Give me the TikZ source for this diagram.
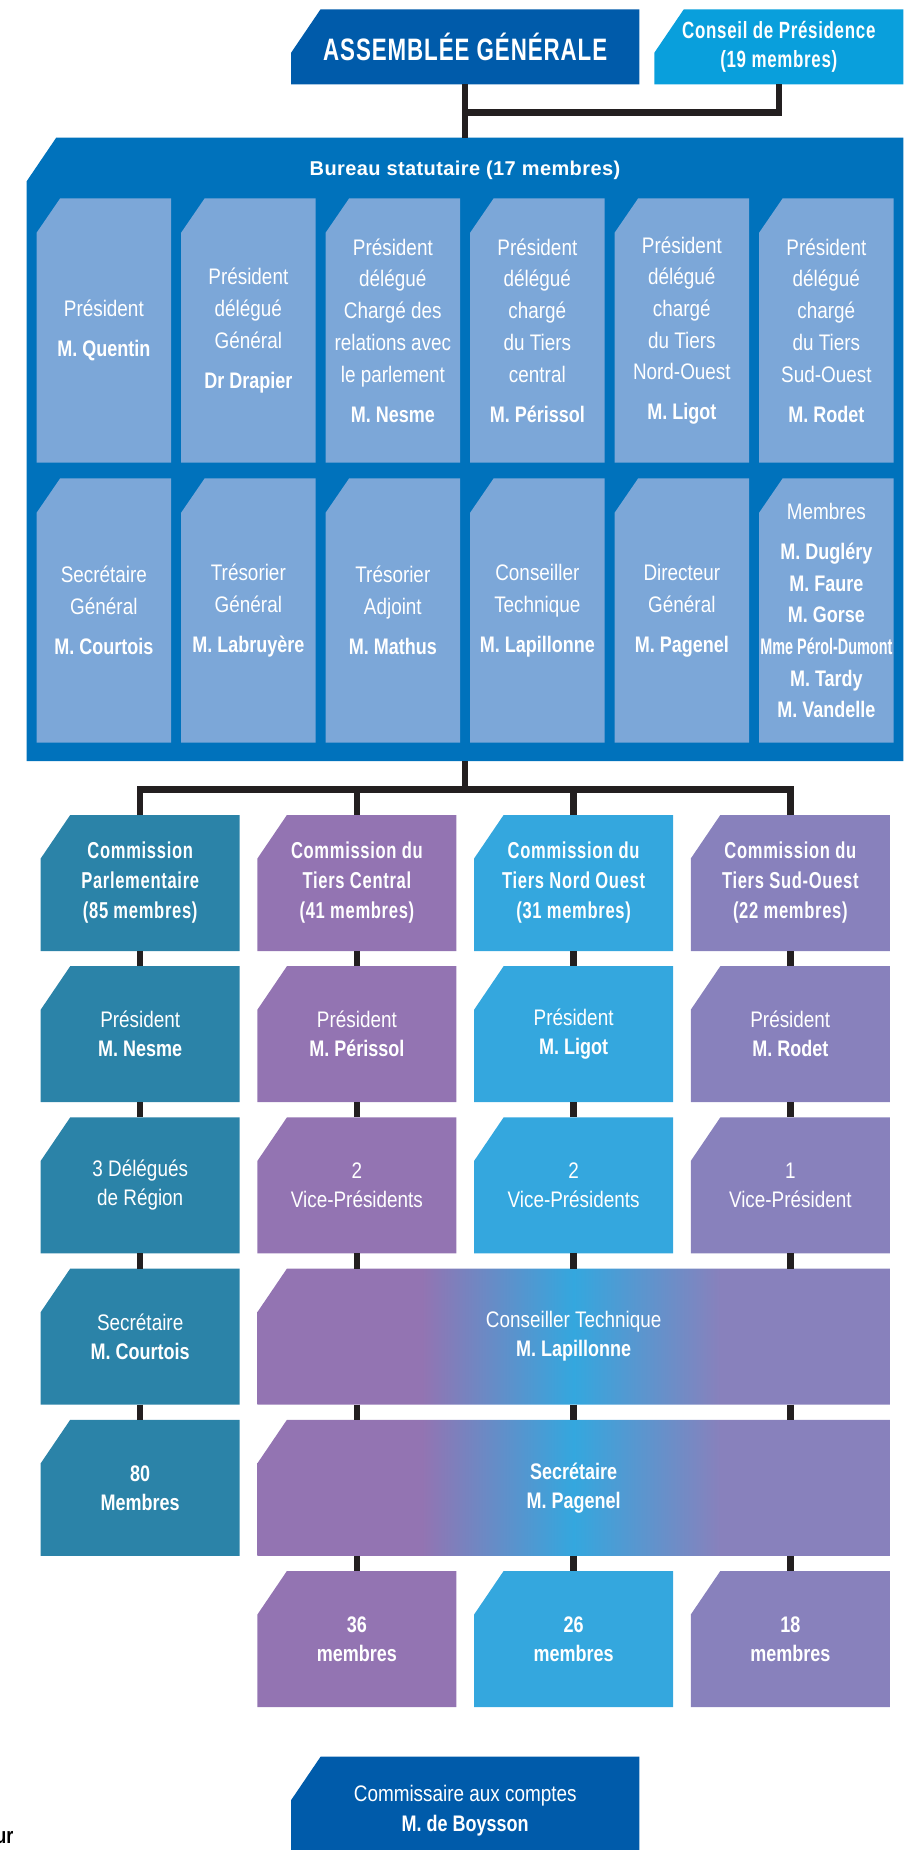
\documentclass[tikz,border=0pt]{standalone}
\usepackage{graphicx}
\usepackage{fontspec}
\setmainfont{Liberation Sans}[FakeStretch=0.84,BoldFeatures={FakeStretch=0.8}]
\newfontfamily\headfont{Liberation Sans}[FakeStretch=0.72,LetterSpace=3]
\newfontfamily\widefont{Liberation Sans}[LetterSpace=2]
\usetikzlibrary{calc}

\definecolor{agblue}{HTML}{005BAA}
\definecolor{conseilblue}{HTML}{099FDC}
\definecolor{bureaublue}{HTML}{0072BC}
\definecolor{memberblue}{HTML}{7CA7D8}
\definecolor{parlteal}{HTML}{2B83A8}
\definecolor{centralpurple}{HTML}{9374B2}
\definecolor{nordblue}{HTML}{34A7DE}
\definecolor{sudlavender}{HTML}{8881BC}
\definecolor{wiregray}{HTML}{231F20}

\pgfdeclarehorizontalshading{tiersgrad}{100bp}{color(0bp)=(centralpurple); color(38bp)=(centralpurple); color(50bp)=(nordblue); color(61.6bp)=(sudlavender); color(100bp)=(sudlavender)}

\tikzset{
  chamfer/.style={path picture={\fill[#1] (path picture bounding box.south west)
      -- ([yshift=-43.5pt]path picture bounding box.north west)
      -- ([xshift=29.5pt]path picture bounding box.north west)
      -- (path picture bounding box.north east)
      -- (path picture bounding box.south east) -- cycle;}},
  smallchamfer/.style={path picture={\fill[#1] (path picture bounding box.south west)
      -- ([yshift=-34.3pt]path picture bounding box.north west)
      -- ([xshift=23.5pt]path picture bounding box.north west)
      -- (path picture bounding box.north east)
      -- (path picture bounding box.south east) -- cycle;}},
  gradchamfer/.style={path picture={\shade[shading=tiersgrad] (path picture bounding box.south west)
      -- ([yshift=-43.5pt]path picture bounding box.north west)
      -- ([xshift=29.5pt]path picture bounding box.north west)
      -- (path picture bounding box.north east)
      -- (path picture bounding box.south east) -- cycle;}},
  orgbox/.style={rectangle, inner sep=0pt, outer sep=0pt, align=center, text=white,
    font=\fontsize{22.5}{29}\selectfont},
  combox/.style={orgbox, minimum width=199pt, minimum height=136pt},
  subbox/.style={orgbox, smallchamfer=memberblue, minimum width=134.3pt,
    minimum height=264.4pt, font=\fontsize{22.5}{31.7}\selectfont},
  headtext/.style={font=\headfont\bfseries\fontsize{23}{30}\selectfont},
  boldtext/.style={font=\bfseries\fontsize{22.5}{29}\selectfont},
  wire/.style={draw=wiregray, line width=6.5pt},
}

\begin{document}
\begin{tikzpicture}[x=1pt, y=-1pt]
  \useasboundingbox (0,0) rectangle (919,1850);

  % Assemblee generale and Conseil de Presidence
  \node[orgbox, chamfer=agblue, minimum width=348.3pt, minimum height=75pt,
    font=\headfont\bfseries\fontsize{31}{31}\selectfont] (ag) at (465.2,46.8) {ASSEMBLÉE GÉNÉRALE};
  \node[orgbox, chamfer=conseilblue, minimum width=249pt, minimum height=75pt,
    font=\headfont\bfseries\fontsize{23.5}{28.3}\selectfont] (conseil) at (778.8,46.8) {Conseil de Présidence\\(19 membres)};

  % Bureau statutaire
  \node[orgbox, chamfer=bureaublue, minimum width=876.6pt, minimum height=623.3pt] (bureau) at (465,449.35) {};
  \node[text=white, inner sep=0pt, font=\widefont\bfseries\fontsize{20}{20}\selectfont] (bureautitle) at (465,170) {Bureau statutaire (17 membres)};

  % Bureau, first row
  \foreach \i/\lbl in {
      1/{Président\\[8.3pt]\textbf{M. Quentin}},
      2/{Président\\délégué\\Général\\[8.3pt]\textbf{Dr Drapier}},
      3/{Président\\délégué\\Chargé des\\relations avec\\le parlement\\[8.3pt]\textbf{M. Nesme}},
      4/{Président\\délégué\\chargé\\du Tiers\\central\\[8.3pt]\textbf{M. Périssol}},
      5/{Président\\délégué\\chargé\\du Tiers\\Nord-Ouest\\[8.3pt]\textbf{M. Ligot}},
      6/{Président\\délégué\\chargé\\du Tiers\\Sud-Ouest\\[8.3pt]\textbf{M. Rodet}}}
    \node[subbox] (up\i) at ({103.85+144.5*(\i-1)},330.5) {\lbl};

  % Bureau, second row
  \foreach \i/\lbl in {
      1/{Secrétaire\\Général\\[8.3pt]\textbf{M. Courtois}},
      2/{Trésorier\\Général\\[8.3pt]\textbf{M. Labruyère}},
      3/{Trésorier\\Adjoint\\[8.3pt]\textbf{M. Mathus}},
      4/{Conseiller\\Technique\\[8.3pt]\textbf{M. Lapillonne}},
      5/{Directeur\\Général\\[8.3pt]\textbf{M. Pagenel}},
      6/{Membres\\[8.3pt]\textbf{M. Dugléry}\\\textbf{M. Faure}\\\textbf{M. Gorse}\\\textbf{\scalebox{0.8}[1]{Mme Pérol-Dumont}}\\\textbf{M. Tardy}\\\textbf{M. Vandelle}}}
    \node[subbox] (low\i) at ({103.85+144.5*(\i-1)},610.5) {\lbl};

  % Commissions
  \foreach \i/\col/\lbl in {
      1/parlteal/{Commission\\Parlementaire\\(85 membres)},
      2/centralpurple/{Commission du\\Tiers Central\\(41 membres)},
      3/nordblue/{Commission du\\Tiers Nord Ouest\\(31 membres)},
      4/sudlavender/{Commission du\\Tiers Sud-Ouest\\(22 membres)}}
    \node[combox, chamfer=\col, headtext] (com\i) at ({140.2+216.7*(\i-1)},883) {\lbl};

  % Presidents
  \foreach \i/\col/\nom in {1/parlteal/M. Nesme, 2/centralpurple/M. Périssol,
      3/nordblue/M. Ligot, 4/sudlavender/M. Rodet}
    \node[combox, chamfer=\col] (pres\i) at ({140.2+216.7*(\i-1)},1034.2) {Président\\\textbf{\nom}};

  % Delegues and vice-presidents
  \foreach \i/\col/\lbl in {1/parlteal/{3 Délégués\\de Région}, 2/centralpurple/{2\\Vice-Présidents},
      3/nordblue/{2\\Vice-Présidents}, 4/sudlavender/{1\\Vice-Président}}
    \node[combox, chamfer=\col] (vice\i) at ({140.2+216.7*(\i-1)},1185.4) {\lbl};

  % Commission parlementaire, lower boxes
  \node[combox, chamfer=parlteal] (secr1) at (140.2,1336.6) {Secrétaire\\\textbf{M. Courtois}};
  \node[combox, chamfer=parlteal, boldtext] (memb1) at (140.2,1487.8) {80\\Membres};

  % Shared boxes of the three Tiers
  \node[orgbox, gradchamfer, minimum width=632.6pt, minimum height=136pt] (tech) at (573.7,1336.6) {Conseiller Technique\\\textbf{M. Lapillonne}};
  \node[orgbox, gradchamfer, minimum width=632.6pt, minimum height=136pt, boldtext] (secr) at (573.7,1487.8) {Secrétaire\\M. Pagenel};

  % Members of the Tiers
  \foreach \i/\col/\nb in {2/centralpurple/36, 3/nordblue/26, 4/sudlavender/18}
    \node[combox, chamfer=\col, boldtext] (memb\i) at ({140.2+216.7*(\i-1)},1639) {\nb\\membres};

  % Commissaire aux comptes
  \node[orgbox, chamfer=agblue, minimum width=348.3pt, minimum height=108pt,
    font=\fontsize{22.5}{30}\selectfont] (cac) at (465.2,1810.7) {Commissaire aux comptes\\\textbf{M. de Boysson}};
  \node[anchor=base east, inner sep=0pt, font=\bfseries\fontsize{22.5}{22.5}\selectfont] (ur) at (13.5,1843.3) {ur};

  % Connectors
  \coordinate (topj) at (465.2,112.5);
  \coordinate (barj) at (465,789.5);
  \draw[wire] (ag.south) -- (ag.south |- bureau.north);
  \draw[wire] (conseil.south) |- (topj);
  \draw[wire] (bureau.south) -- (barj);
  \draw[wire] (com1.north) |- (barj) -| (com4.north);
  \foreach \i in {2,3}
    \draw[wire] (com\i.north) -- (com\i.north |- barj);
  \foreach \i in {1,...,4} {
    \draw[wire] (com\i) -- (pres\i);
    \draw[wire] (pres\i) -- (vice\i);
  }
  \draw[wire] (vice1) -- (secr1);
  \draw[wire] (secr1) -- (memb1);
  \foreach \i in {2,3,4} {
    \draw[wire] (vice\i) -- (vice\i |- tech.north);
    \draw[wire] (vice\i |- tech.south) -- (vice\i |- secr.north);
    \draw[wire] (vice\i |- secr.south) -- (memb\i);
  }
\end{tikzpicture}
\end{document}
